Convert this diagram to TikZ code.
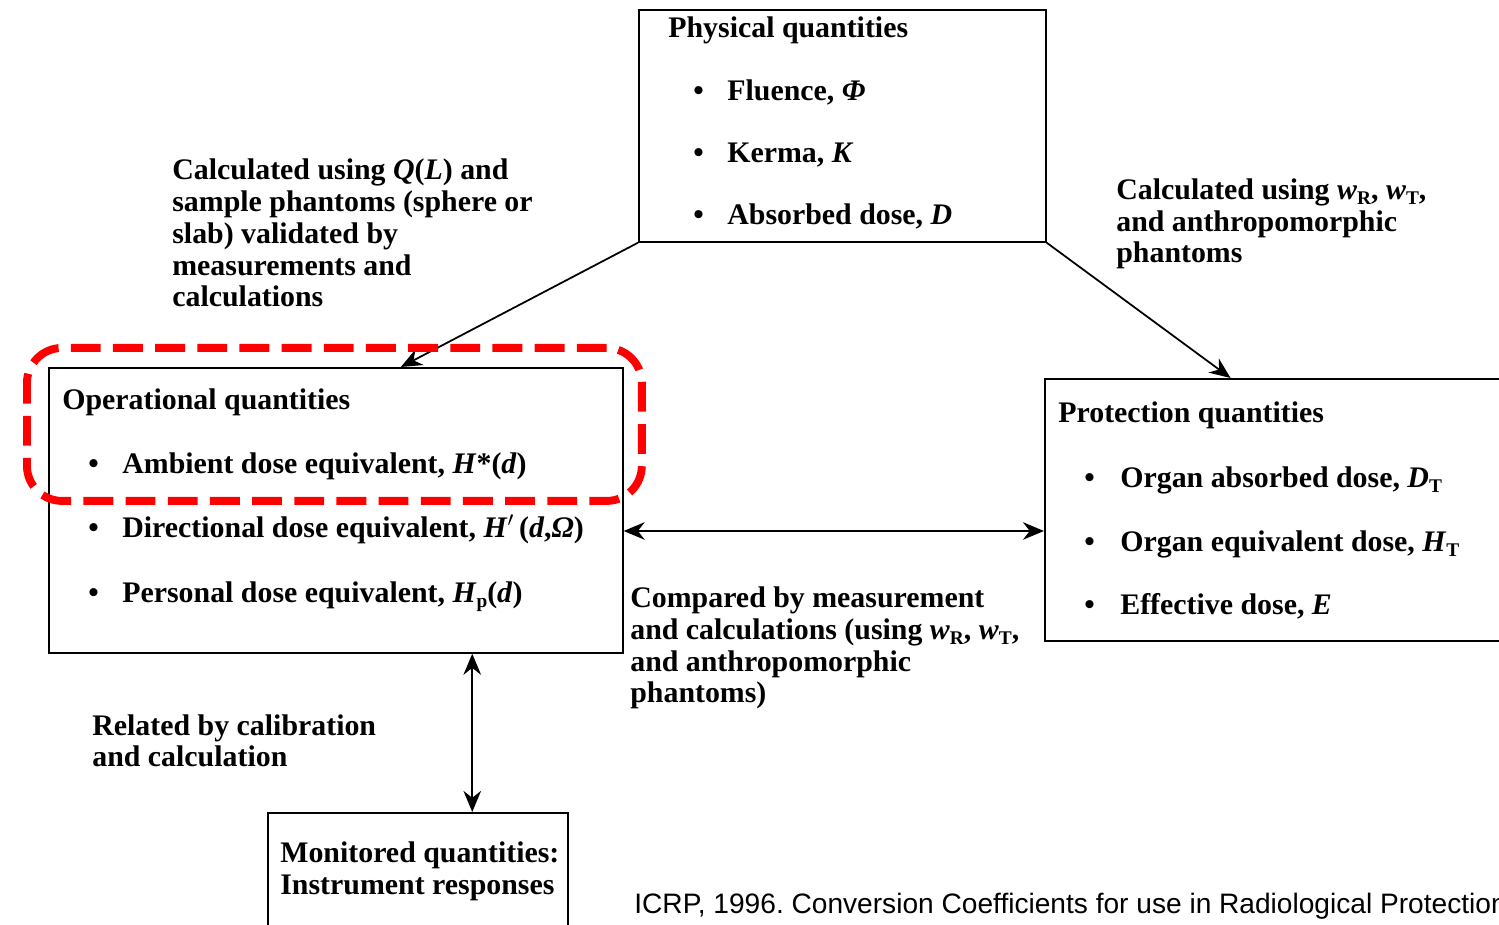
\documentclass[tikz,border=0pt]{standalone}
\usepackage{fontspec}
\setmainfont{Liberation Serif}
\newfontfamily\capfont{Liberation Sans}
\usetikzlibrary{arrows.meta,calc}
\newcommand\dsub[1]{\raisebox{-0.35ex}{\fontsize{11}{11}\selectfont #1}}
\frenchspacing
\begin{document}
\begin{tikzpicture}[x=0.02cm,y=-0.02cm,
  box/.style={draw=black, line width=1pt, anchor=north west, inner sep=0pt},
  txt/.style={anchor=base west, inner sep=0pt, align=left,
    font=\fontsize{17}{18.14}\selectfont\bfseries},
  bul/.style={anchor=base west, inner sep=0pt,
    font=\fontsize{17}{18.14}\selectfont\bfseries},
  arr/.style={line width=1pt, -{Stealth[length=12pt,width=10pt]}},
  arrb/.style={line width=1pt, {Stealth[length=12pt,width=10pt]}-{Stealth[length=12pt,width=10pt]}},
  hilite/.style={draw=red, line width=4.5pt, dash pattern=on 17pt off 7pt,
    rounded corners=20pt, anchor=north west, inner sep=0pt}]
\useasboundingbox (0,0) rectangle (1499,925);
\clip (0,0) rectangle (1499,925);
\fill[white] (0,0) rectangle (1499,925);

% boxes
\node[box, minimum width=8.14cm, minimum height=4.64cm] (phys) at (638,9) {};
\node[box, minimum width=11.48cm, minimum height=5.7cm] (op) at (48,367) {};
\node[box, minimum width=9.8cm, minimum height=5.24cm] (prot) at (1044,378) {};
\node[box, minimum width=6cm, minimum height=3cm] (mon) at (267,812) {};

% physical quantities
\node[txt] (pt) at (668,38) {Physical quantities};
\node[bul] (pb1) at (693,101) {\textbullet};
\node[txt] (p1) at (727,101) {Fluence, \textit{Φ}};
\node[bul] (pb2) at (693,163) {\textbullet};
\node[txt] (p2) at (727,163) {Kerma, \textit{K}};
\node[bul] (pb3) at (693,225) {\textbullet};
\node[txt] (p3) at (727,225) {Absorbed dose, \textit{D}};

% operational quantities
\node[txt] (ot) at (62,410) {Operational quantities};
\node[bul] (ob1) at (88,474) {\textbullet};
\node[txt] (o1) at (122,474) {Ambient dose equivalent, \textit{H}*(\textit{d})};
\node[bul] (ob2) at (88,538) {\textbullet};
\node[txt] (o2) at (122,538) {Directional dose equivalent, \textit{H}$'$\,(\textit{d},\textit{Ω})};
\node[bul] (ob3) at (88,603) {\textbullet};
\node[txt] (o3) at (122,603) {Personal dose equivalent, \textit{H}\dsub{p}(\textit{d})};

% protection quantities
\node[txt] (prt) at (1058,423) {Protection quantities};
\node[bul] (rb1) at (1084,488) {\textbullet};
\node[txt] (r1) at (1120,488) {Organ absorbed dose, \textit{D}\dsub{T}};
\node[bul] (rb2) at (1084,552) {\textbullet};
\node[txt] (r2) at (1120,552) {Organ equivalent dose, \textit{H}\dsub{T}};
\node[bul] (rb3) at (1084,615) {\textbullet};
\node[txt] (r3) at (1120,615) {Effective dose, \textit{E}};

% monitored
\node[txt] (mt) at (280,894) {Monitored quantities:\\Instrument responses};

% labels
\node[txt] (l1) at (172,307) {Calculated using \textit{Q}(\textit{L}) and\\sample phantoms (sphere or\\slab) validated by\\measurements and\\calculations};
\node[txt] (l2) at (1116,263) {Calculated using \textit{w}\dsub{R}, \textit{w}\dsub{T},\\and anthropomorphic\\phantoms};
\node[txt] (l3) at (630,703) {Compared by measurement\\and calculations (using \textit{w}\dsub{R}, \textit{w}\dsub{T},\\and anthropomorphic\\phantoms)};
\node[txt] (l4) at (92,767) {Related by calibration\\and calculation};

% connectors
\coordinate (opin) at ($(op.north west)!0.613!(op.north east)$);
\draw[arr] (phys.south west) -- (opin);
\coordinate (protin) at ($(prot.north west)!0.3795!(prot.north east)$);
\draw[arr] (phys.south east) -- (protin);
\coordinate (h1) at ($(op.north east)!0.572!(op.south east)$);
\draw[arrb] (h1) -- (h1 -| prot.west);
\coordinate (v1) at ($(op.south west)!0.737!(op.south east)$);
\draw[arrb] (v1) -- (v1 |- mon.north);

% highlight
\node[hilite, minimum width=12.3cm, minimum height=3.06cm] (hl) at (23,344) {};

% caption
\node[anchor=base west, inner sep=0pt, font=\capfont\fontsize{16}{18}\selectfont] (cap) at (634,913) {ICRP, 1996. Conversion Coefficients for use in Radiological Protection};
\end{tikzpicture}
\end{document}
